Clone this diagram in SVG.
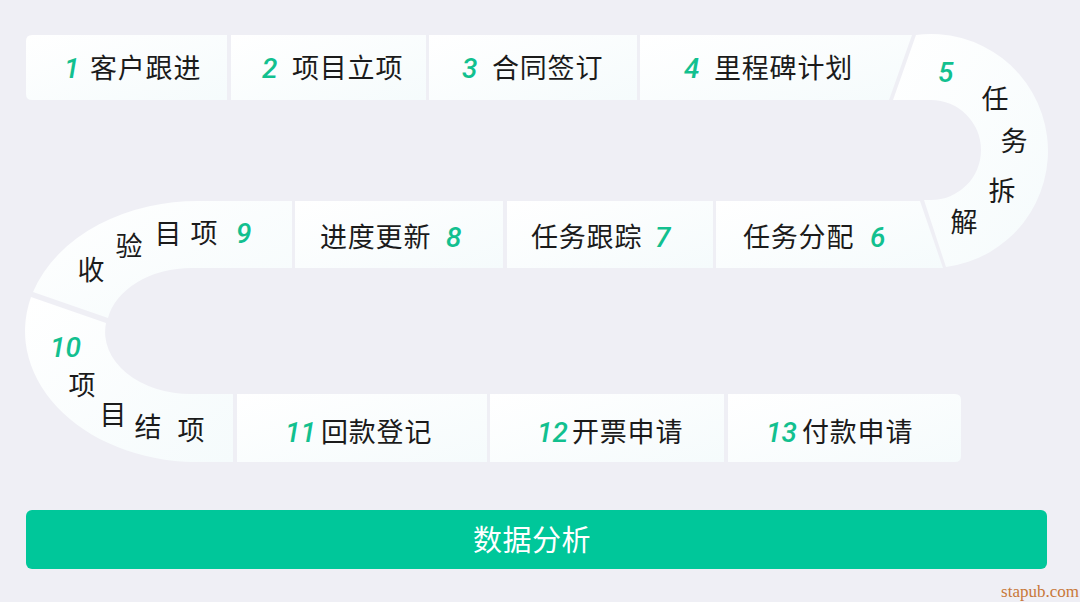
<svg xmlns="http://www.w3.org/2000/svg" width="1080" height="602" viewBox="0 0 1080 602">
<defs>
<linearGradient id="pg" x1="0" y1="0" x2="1" y2="1">
<stop offset="0" stop-color="#ffffff"/>
<stop offset="1" stop-color="#f5fbfc"/>
</linearGradient>
<style>
.seg{fill:url(#pg);}
.t{font-family:"Noto Sans CJK SC","Noto Sans",sans-serif;font-size:27px;letter-spacing:0.8px;fill:#1b1b1b;}
.n{font-family:Roboto,"Noto Sans",sans-serif;font-size:28px;font-style:italic;font-weight:500;fill:#12c08f;}
.c{text-anchor:middle;letter-spacing:0;}
</style>
</defs>
<rect width="1080" height="602" fill="#efeff5"/>
<g id="connectors"></g>
<g id="n1"><path class="seg" d="M32,35 H227 V100 H32 Q26,100 26,94 V41 Q26,35 32,35 Z"/><text class="n" x="64" y="78">1</text><text class="t" x="90" y="78">客户跟进</text></g>
<g id="n2"><rect class="seg" x="231" y="35" width="195" height="65"/><text class="n" x="262" y="78">2</text><text class="t" x="292" y="78">项目立项</text></g>
<g id="n3"><rect class="seg" x="429" y="35" width="208" height="65"/><text class="n" x="462" y="78">3</text><text class="t" x="492" y="78">合同签订</text></g>
<g id="n4"><path class="seg" d="M640,35 H912 L889,100 H640 Z"/><text class="n" x="684" y="78">4</text><text class="t" x="714" y="78">里程碑计划</text></g>
<g id="n5"><path class="seg" d="M916,35 A116,116 0 0 1 946,267 L924,200 H931 A50,50 0 0 0 931,100 H893 Z"/>
<text class="n" x="938" y="82">5</text>
<text class="t c" x="995" y="109">任</text><text class="t c" x="1014" y="151">务</text><text class="t c" x="1002" y="201">拆</text><text class="t c" x="964" y="232">解</text></g>
<g id="n6"><path class="seg" d="M716,201 H920 L943,268 H716 Z"/><text class="t" x="743" y="247">任务分配</text><text class="n" x="870" y="247">6</text></g>
<g id="n7"><rect class="seg" x="507" y="201" width="206" height="67"/><text class="t" x="531" y="247">任务跟踪</text><text class="n" x="655" y="247">7</text></g>
<g id="n8"><rect class="seg" x="295" y="201" width="208" height="67"/><text class="t" x="320" y="247">进度更新</text><text class="n" x="446" y="247">8</text></g>
<g id="n9"><path class="seg" d="M292,201 H205 A173,131 0 0 0 33,292 L108,318 A85,62 0 0 1 192,268 H292 Z"/>
<text class="n" x="236" y="243">9</text>
<text class="t c" x="204" y="243">项</text><text class="t c" x="168" y="244">目</text><text class="t c" x="129" y="256">验</text><text class="t c" x="91" y="280">收</text></g>
<g id="n10"><path class="seg" d="M31,297 A173,131 0 0 0 205,462 H233 V394 H192 A85,62 0 0 1 106,323 Z"/>
<text class="n" x="50" y="357">10</text>
<text class="t c" x="82" y="395">项</text><text class="t c" x="113" y="425">目</text><text class="t c" x="148" y="437">结</text><text class="t c" x="191" y="440">项</text></g>
<g id="n11"><rect class="seg" x="237" y="394" width="250" height="68"/><text class="n" x="285" y="442">11</text><text class="t" x="321" y="442">回款登记</text></g>
<g id="n12"><rect class="seg" x="490" y="394" width="234" height="68"/><text class="n" x="537" y="442">12</text><text class="t" x="572" y="442">开票申请</text></g>
<g id="n13"><path class="seg" d="M728,394 H955 Q961,394 961,400 V456 Q961,462 955,462 H728 Z"/><text class="n" x="766" y="442">13</text><text class="t" x="802" y="442">付款申请</text></g>
<g id="bar"><rect x="26" y="510" width="1021" height="59" rx="6" fill="#00c79a"/><text class="t c" x="532" y="551" style="fill:#ffffff;font-size:29px;letter-spacing:0.5px">数据分析</text></g>
<text x="1079" y="597" text-anchor="end" font-family="Liberation Serif,serif" font-size="17" fill="#c8783a">stapub.com</text>
</svg>
